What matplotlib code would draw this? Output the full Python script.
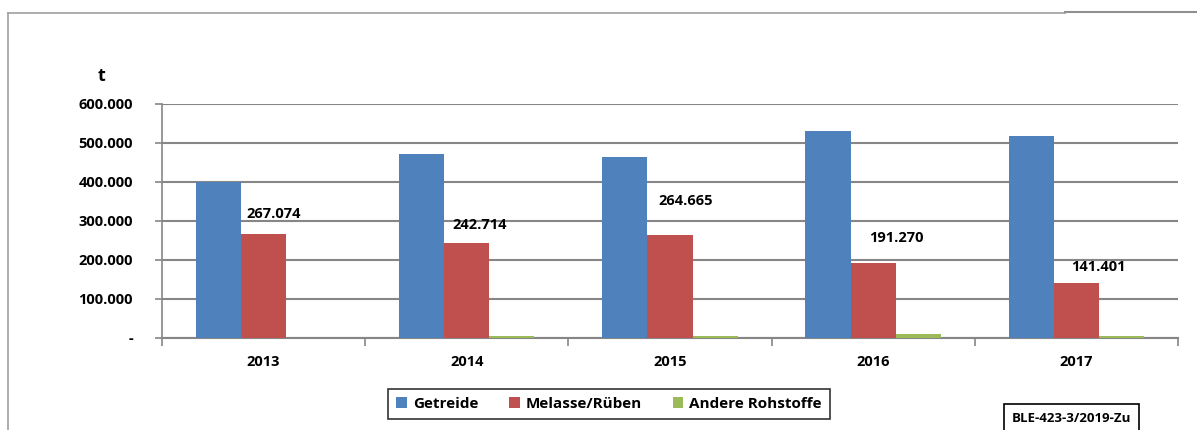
import matplotlib.pyplot as plt
from matplotlib.patches import Rectangle
from matplotlib.lines import Line2D
import numpy as np

plt.rcParams['font.family'] = ['Open Sans', 'DejaVu Sans']

years = ['2013', '2014', '2015', '2016', '2017']
getreide = [401000, 472000, 465000, 531000, 518000]
melasse = [267074, 242714, 264665, 191270, 141401]
andere = [0, 5500, 5000, 10000, 5000]
melasse_labels = ['267.074', '242.714', '264.665', '191.270', '141.401']

# label offsets (points) above red bars, as in the original
lbl_dx = [7, 9, 11, 17, 16]
lbl_dy = [9, 8.5, 19, 13.5, 6]

fig = plt.figure(figsize=(11.97, 4.30), dpi=100)
ax = fig.add_axes([0.1353, 0.2140, 0.8488, 0.5442])

x = np.arange(len(years))
w = 0.222
ax.bar(x - w, getreide, w, color='#4F81BD', label='Getreide', zorder=3)
ax.bar(x, melasse, w, color='#C0504D', label='Melasse/Rüben', zorder=3)
ax.bar(x + w, andere, w, color='#9BBB59', label='Andere Rohstoffe', zorder=3)

for i in range(len(years)):
    ax.annotate(melasse_labels[i], (x[i], melasse[i]), xytext=(lbl_dx[i], lbl_dy[i]),
                textcoords='offset points', ha='center', va='bottom',
                fontsize=10.5, fontweight='bold')

ax.set_xlim(-0.5, len(years) - 0.5)
ax.set_ylim(0, 600000)
yt = [0, 100000, 200000, 300000, 400000, 500000, 600000]
ax.set_yticks(yt)
ax.set_yticklabels(['-'] + [f'{v:,}'.replace(',', '.') for v in yt[1:]],
                   fontsize=10.5, fontweight='bold')
ax.yaxis.grid(True, color='#868686', linewidth=1.5, zorder=0)
ax.tick_params(axis='y', length=5, color='#868686', width=1.2, pad=16)

ax.set_xticks(x)
ax.set_xticklabels(years, fontsize=10.5, fontweight='bold')
ax.set_xticks(np.arange(-0.5, len(years)), minor=True)
ax.tick_params(axis='x', which='major', length=0, pad=12)
ax.tick_params(axis='x', which='minor', length=6, color='#868686', width=1.2)

for s in ['top', 'right']:
    ax.spines[s].set_visible(False)
ax.spines['left'].set_color('#868686')
ax.spines['bottom'].set_color('#868686')
ax.spines['left'].set_linewidth(1.2)
ax.spines['bottom'].set_linewidth(1.5)

fig.text(101 / 1197, 1 - 76 / 430, 't', fontsize=13, fontweight='bold', ha='center', va='center')

leg = fig.legend(loc='center', bbox_to_anchor=(609 / 1197, 1 - 404 / 430), ncol=3,
                 frameon=True, fancybox=False, edgecolor='black', handlelength=0.7,
                 handleheight=0.7, columnspacing=2.0, handletextpad=0.4,
                 prop={'size': 11, 'weight': 'bold'}, borderpad=0.55)
leg.get_frame().set_linewidth(1.2)

# source box, cut off at the bottom edge
fig.add_artist(Rectangle((1004 / 1197, -0.01), 135 / 1197, 0.01 + 26 / 430,
                         transform=fig.transFigure, facecolor='white',
                         edgecolor='black', linewidth=1.2))
fig.text(1071 / 1197, 1 - 418 / 430, 'BLE-423-3/2019-Zu', fontsize=9.5, fontweight='bold',
         ha='center', va='center')

# outer frame lines
fig.add_artist(Line2D([8 / 1197, 1065 / 1197], [1 - 13 / 430, 1 - 13 / 430],
                      color='#A0A0A0', linewidth=1.2, transform=fig.transFigure))
fig.add_artist(Line2D([1065 / 1197, 1], [1 - 12 / 430, 1 - 12 / 430],
                      color='#909090', linewidth=1.5, transform=fig.transFigure))
fig.add_artist(Line2D([8 / 1197, 8 / 1197], [1 - 13 / 430, 0],
                      color='#A0A0A0', linewidth=1.2, transform=fig.transFigure))

fig.savefig('out.png', dpi=100)
